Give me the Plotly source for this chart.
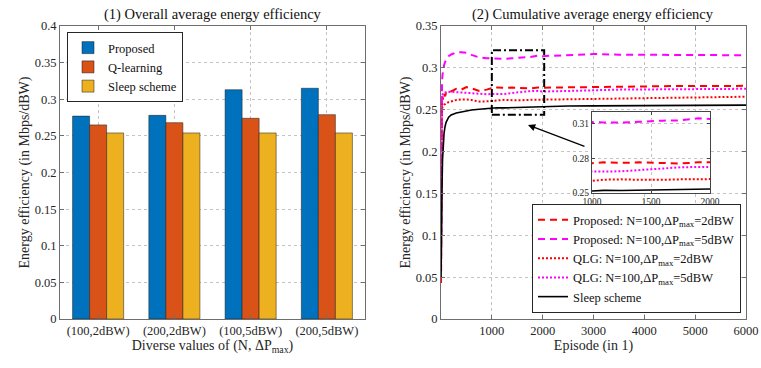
import plotly.graph_objects as go

W, H = 761, 368
SERIF = "Liberation Serif"

# ---------------- data: panel (1) ----------------
categories = ["(100,2dBW)", "(200,2dBW)", "(100,5dBW)", "(200,5dBW)"]
proposed_bar = [0.277, 0.278, 0.313, 0.315]
qlearning_bar = [0.265, 0.268, 0.274, 0.279]
sleep_bar = [0.254, 0.254, 0.254, 0.254]
left_yticks = [0, 0.05, 0.1, 0.15, 0.2, 0.25, 0.3, 0.35, 0.4]
left_yticklabels = ["0", "0.05", "0.1", "0.15", "0.2", "0.25", "0.3", "0.35", "0.4"]

# ---------------- data: panel (2) ----------------
episodes = [1, 3, 6, 10, 15, 20, 30, 40, 60, 80, 100, 150, 200, 300, 400, 500, 600, 750, 900,
            1000, 1100, 1250, 1400, 1500, 1600, 1750, 1900, 2000, 2250, 2500, 3000, 3500,
            4000, 4500, 5000, 5500, 6000]
prop_2dbw = [0.043, 0.12, 0.2, 0.245, 0.26, 0.255, 0.266, 0.262, 0.269, 0.266, 0.27, 0.269,
             0.272, 0.275, 0.274, 0.277, 0.2755, 0.2725, 0.274, 0.2758, 0.2765, 0.276, 0.2765,
             0.2762, 0.2758, 0.2755, 0.2765, 0.2762, 0.2765, 0.2768, 0.277, 0.2772, 0.2778,
             0.2782, 0.2785, 0.2785, 0.2785]
prop_5dbw = [0.1, 0.17, 0.23, 0.26, 0.275, 0.283, 0.292, 0.297, 0.303, 0.307, 0.309, 0.314,
             0.316, 0.3185, 0.3185, 0.318, 0.3155, 0.3125, 0.3115, 0.3113, 0.311, 0.3108,
             0.3115, 0.3122, 0.3125, 0.3128, 0.3145, 0.314, 0.3145, 0.315, 0.3165, 0.3158,
             0.3155, 0.3155, 0.3155, 0.3152, 0.3152]
qlg_2dbw = [0.07, 0.14, 0.2, 0.235, 0.245, 0.25, 0.2535, 0.255, 0.256, 0.2565, 0.2577, 0.259,
            0.26, 0.2616, 0.2622, 0.2624, 0.2615, 0.2598, 0.26, 0.2605, 0.2615, 0.2618, 0.2614,
            0.2612, 0.2614, 0.2618, 0.262, 0.2618, 0.262, 0.2622, 0.2628, 0.2633, 0.2638,
            0.2643, 0.2648, 0.2652, 0.2655]
qlg_5dbw = [0.057, 0.13, 0.2, 0.24, 0.255, 0.262, 0.268, 0.27, 0.27, 0.2705, 0.271, 0.2712,
            0.2715, 0.271, 0.2705, 0.2698, 0.2692, 0.2688, 0.2685, 0.2688, 0.2685, 0.2688,
            0.27, 0.2708, 0.2715, 0.2722, 0.2725, 0.2718, 0.272, 0.2725, 0.2735, 0.274,
            0.2742, 0.2745, 0.2748, 0.275, 0.275]
sleep_curve = [0.05, 0.08, 0.1, 0.12, 0.14, 0.158, 0.19, 0.21, 0.222, 0.23, 0.235, 0.241,
               0.2437, 0.2462, 0.2476, 0.2488, 0.2497, 0.2506, 0.2515, 0.2522, 0.2523, 0.2522,
               0.2525, 0.2528, 0.2532, 0.2535, 0.2538, 0.254, 0.2542, 0.2544, 0.2546, 0.2548,
               0.255, 0.2552, 0.2553, 0.2554, 0.2555]
right_yticks = [0, 0.05, 0.1, 0.15, 0.2, 0.25, 0.3, 0.35]
right_yticklabels = ["0", "0.05", "0.1", "0.15", "0.2", "0.25", "0.3", "0.35"]
right_xticks = [1000, 2000, 3000, 4000, 5000, 6000]
inset_xticks = [1000, 1500, 2000]
inset_yticks = [0.25, 0.28, 0.31]
inset_yticklabels = ["0.25", "0.28", "0.31"]
zoom_x = [1000, 2030]
zoom_y = [0.244, 0.321]

series = [
    ("Proposed: N=100,ΔP<sub>max</sub>=2dBW", prop_2dbw, "#FF0000", "7px,5px", 2),
    ("Proposed: N=100,ΔP<sub>max</sub>=5dBW", prop_5dbw, "#FF00FF", "7px,5px", 2),
    ("QLG: N=100,ΔP<sub>max</sub>=2dBW", qlg_2dbw, "#FF0000", "2px,2px", 2),
    ("QLG: N=100,ΔP<sub>max</sub>=5dBW", qlg_5dbw, "#FF00FF", "2px,2px", 2),
    ("Sleep scheme", sleep_curve, "#000000", "solid", 1.6),
]

fig = go.Figure()

# ---- bars ----
xpos = [1, 2, 3, 4]
for name, vals, col in [("Proposed", proposed_bar, "#0072BD"),
                        ("Q-learning", qlearning_bar, "#D95319"),
                        ("Sleep scheme", sleep_bar, "#EDB120")]:
    fig.add_trace(go.Bar(x=xpos, y=vals, name=name,
                         marker=dict(color=col, line=dict(color="#1a1a1a", width=0.5)),
                         xaxis="x", yaxis="y", legend="legend"))

# ---- curves ----
for name, vals, col, dash, lw in series:
    fig.add_trace(go.Scatter(x=episodes, y=vals, mode="lines", name=name,
                             line=dict(color=col, dash=dash, width=lw),
                             xaxis="x2", yaxis="y2", legend="legend2"))
for name, vals, col, dash, lw in series:
    fig.add_trace(go.Scatter(x=episodes, y=vals, mode="lines", name=name, showlegend=False,
                             line=dict(color=col, dash=dash, width=lw),
                             xaxis="x3", yaxis="y3"))


def px(v):
    return v / W


def py(v):
    return 1 - v / H


axcol = "#6e6e6e"
base = dict(showline=True, linecolor=axcol, linewidth=1, mirror="ticks", ticks="inside", ticklen=4,
            tickcolor=axcol, showgrid=True, gridcolor="#c4c4c4", griddash="dot", gridwidth=1,
            zeroline=False, automargin=False, ticklabeloverflow="allow",
            tickfont=dict(family=SERIF, size=12.5, color="#262626"),
            title_font=dict(family=SERIF, size=14, color="#262626"))
small = dict(family=SERIF, size=9.5, color="#262626")

fig.update_layout(
    width=W, height=H, margin=dict(l=0, r=0, t=0, b=0, autoexpand=False),
    paper_bgcolor="white", plot_bgcolor="white",
    barmode="group", bargap=0.33, bargroupgap=0,
    font=dict(family=SERIF, color="#262626"),
    xaxis=dict(base, domain=[px(60), px(365)], range=[0.5, 4.5], tickvals=xpos, ticktext=categories,
               anchor="y", title=dict(text="Diverse values of (N, ΔP<sub>max</sub>)", standoff=3)),
    yaxis=dict(base, domain=[py(319), py(26)], range=[0, 0.4], tickvals=left_yticks,
               ticktext=left_yticklabels, anchor="x",
               title=dict(text="Energy efficiency (in Mbps/dBW)", standoff=1)),
    xaxis2=dict(base, domain=[px(441), px(746)], range=[0, 6000], tickvals=right_xticks, anchor="y2",
                title=dict(text="Episode (in 1)", standoff=3)),
    yaxis2=dict(base, domain=[py(319), py(26)], range=[0, 0.35], tickvals=right_yticks,
                ticktext=right_yticklabels, anchor="x2",
                title=dict(text="Energy efficiency (in Mbps/dBW)", standoff=1)),
    xaxis3=dict(base, domain=[px(592), px(710)], range=[1000, 2000], tickvals=inset_xticks, anchor="y3",
                tickfont=small, linecolor="#444", tickcolor="#444", ticklen=3),
    yaxis3=dict(base, domain=[py(193), py(112)], range=[0.25, 0.32], tickvals=inset_yticks,
                ticktext=inset_yticklabels, anchor="x3",
                tickfont=small, linecolor="#444", tickcolor="#444", ticklen=3),
    legend=dict(x=px(67), y=py(32), xanchor="left", yanchor="top", bgcolor="white",
                bordercolor="#262626", borderwidth=1, font=dict(family=SERIF, size=12.5, color="#111"),
                tracegroupgap=0, itemwidth=30),
    legend2=dict(x=px(741), y=py(313), xanchor="right", yanchor="bottom", bgcolor="white",
                 bordercolor="#262626", borderwidth=1, font=dict(family=SERIF, size=12.5, color="#111"),
                 tracegroupgap=0, itemwidth=30),
    showlegend=True,
)

fig.add_annotation(text="(1) Overall average energy efficiency", x=px(213), y=py(4), xref="paper",
                   yref="paper", xanchor="center", yanchor="top", showarrow=False,
                   font=dict(family=SERIF, size=14.5, color="#111"))
fig.add_annotation(text="(2) Cumulative average energy efficiency", x=px(593), y=py(4), xref="paper",
                   yref="paper", xanchor="center", yanchor="top", showarrow=False,
                   font=dict(family=SERIF, size=14.5, color="#111"))

# zoom window and arrow
fig.add_shape(type="rect", xref="x2", yref="y2", x0=zoom_x[0], x1=zoom_x[1], y0=zoom_y[0], y1=zoom_y[1],
              line=dict(color="black", width=2, dash="8px,3px,2px,3px"))
fig.add_annotation(x=px(528), y=py(125), xref="paper", yref="paper", ax=58, ay=22, axref="pixel",
                   ayref="pixel", text="", showarrow=True, arrowhead=2, arrowsize=1.2, arrowwidth=1.2,
                   arrowcolor="black")

fig.write_html("out.html", config={"displayModeBar": False},
               post_script="document.body.style.margin='0px';")
